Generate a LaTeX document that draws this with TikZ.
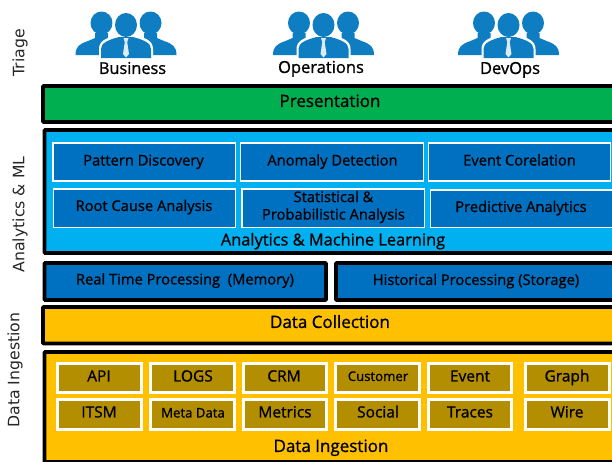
\documentclass[tikz,border=0pt]{standalone}
\usepackage{fontspec}
\setmainfont{Open Sans}[FakeBold=1]
\newfontfamily\sidefont{DejaVu Sans}
\definecolor{peopleblue}{HTML}{0F7DC2}
\definecolor{layergreen}{HTML}{00B050}
\definecolor{layercyan}{HTML}{00B0F0}
\definecolor{layerblue}{HTML}{0070C0}
\definecolor{layeryellow}{HTML}{FFC000}
\definecolor{sourcegold}{HTML}{B28E00}
\tikzset{
    layer/.style={draw=black, line width=3.6pt, rounded corners=0.6pt},
    bluecell/.style={draw=white, line width=1.5pt, fill=layerblue},
    goldcell/.style={draw=white, line width=3pt, fill=sourcegold},
    txt/.style={inner sep=0pt, yshift=-2.3pt, text=black, text height=0.75em, text depth=0.22em, font=\fontsize{14.7}{16}\selectfont},
    bigtxt/.style={txt, font=\fontsize{17}{19}\selectfont},
    goldtxt/.style={txt, font=\fontsize{15.5}{17}\selectfont},
    smalltxt/.style={txt, font=\fontsize{13.2}{15}\selectfont},
    sidetxt/.style={inner sep=0pt, rotate=90, text=black!85, font=\sidefont\fontsize{15.7}{18}\selectfont},
    people/.pic={
        % back left and back right person
        \foreach \s in {-1, 1} {
            \fill[peopleblue, xscale=\s] (24.5,-32) circle [x radius=11, y radius=11.5];
            \fill[peopleblue, xscale=\s] (50.5,0) .. controls (50.5,-8) and (47,-11) .. (38,-14)
                -- (31,-17) -- (31,-22) -- (18,-22) -- (18,-17) -- (8,-12) -- (8,0) -- cycle;
        }
        % white halo, then the front person
        \fill[white] (-27,3) -- (-27,-6) .. controls (-27,-14) and (-20,-17) .. (-9,-20)
            -- (9,-20) .. controls (20,-17) and (27,-14) .. (27,-6) -- (27,3) -- cycle;
        \fill[white] (0,-30) circle [x radius=13.5, y radius=14.5];
        \fill[peopleblue] (0,-30) circle [x radius=11, y radius=12];
        \fill[peopleblue] (-25,3) -- (-25,-6) .. controls (-25,-12) and (-18,-15) .. (-7,-18)
            -- (7,-18) .. controls (18,-15) and (25,-12) .. (25,-6) -- (25,3) -- cycle;
        % tie
        \fill[white!85!peopleblue] (-2.5,-17) -- (2.5,-17) -- (1.2,-13) -- (3,-1) -- (0,2.5) -- (-3,-1) -- (-1.2,-13) -- cycle;
    }
}
\begin{document}
\begin{tikzpicture}[x=1pt, y=-1pt]
    \useasboundingbox (0,0) rectangle (612,461);
    \clip (0,0) rectangle (612,461);

    % Side labels
    \node[sidetxt] (triage) at (20,53) {Triage};
    \node[sidetxt] (analyticsml) at (20,214.5) {Analytics \& ML};
    \node[sidetxt] (ingestionside) at (15,370) {Data Ingestion};

    % People on top
    \pic at (126,55) {people};
    \pic at (323.5,55) {people};
    \pic at (508.5,55) {people};
    \node[bigtxt, font=\fontsize{16.3}{18}\selectfont] (business) at (132.5,69) {Business};
    \node[bigtxt, font=\fontsize{16.5}{18}\selectfont] (operations) at (321,68) {Operations};
    \node[bigtxt, font=\fontsize{16.5}{18}\selectfont] (devops) at (510,69) {DevOps};

    % Presentation
    \draw[layer, fill=layergreen] (43,86) rectangle (625,122);
    \node[bigtxt] (presentation) at (330,102) {Presentation};

    % Analytics
    \draw[layer, fill=layercyan] (44.5,130) rectangle (625,253);
    \foreach \xa/\ya/\xb/\yb in {
        53/143/235.5/181,
        240.5/143/423.5/181,
        428.5/143/610.5/181,
        53.5/189/235.5/227.5,
        242/189/424.5/227.5,
        430.5/190/625/227.5}
        \draw[bluecell] (\xa,\ya) rectangle (\xb,\yb);
    \node[txt] (pattern) at (143.5,160.5) {Pattern Discovery};
    \node[txt] (anomaly) at (332.5,160.5) {Anomaly Detection};
    \node[txt] (event) at (519.5,160.5) {Event Corelation};
    \node[txt] (rootcause) at (144,206) {Root Cause Analysis};
    \node[inner sep=0pt, align=center, font=\fontsize{14.7}{17.5}\selectfont] (statistical) at (333.5,207) {Statistical \&\\Probabilistic Analysis};
    \node[txt] (predictive) at (521,207) {Predictive Analytics};
    \node[bigtxt, font=\fontsize{16.4}{18}\selectfont] (analyticstitle) at (333,240.5) {Analytics \& Machine Learning};

    % Processing
    \draw[layer, fill=layerblue] (44.5,263) rectangle (326,300);
    \draw[layer, fill=layerblue] (336,263) rectangle (625,300);
    \node[txt] (realtime) at (185,279.5) {Real Time Processing~ (Memory)};
    \node[txt] (historical) at (476,280) {Historical Processing (Storage)};

    % Data collection
    \draw[layer, fill=layeryellow] (43,307) rectangle (625,343.5);
    \node[bigtxt] (collection) at (330,323) {Data Collection};

    % Data ingestion
    \draw[layer, fill=layeryellow] (44.5,352) rectangle (625,462);
    \foreach \xa/\xb in {57.5/141.5, 150.5/234.5, 243.5/326.5, 335.5/419.5, 428.5/511.5, 525.5/609.5} {
        \draw[goldcell] (\xa,363.5) rectangle (\xb,392.5);
        \draw[goldcell] (\xa,399.5) rectangle (\xb,429);
    }
    % Row one
    \node[goldtxt] (api) at (99,376.5) {API};
    \node[goldtxt] (logs) at (193,376.5) {LOGS};
    \node[goldtxt] (crm) at (284,376.5) {CRM};
    \node[smalltxt] (customer) at (378,376) {Customer};
    \node[goldtxt] (eventsrc) at (470,376.5) {Event};
    \node[goldtxt] (graph) at (567,376.5) {Graph};
    % Row two
    \node[goldtxt] (itsm) at (99,412.5) {ITSM};
    \node[smalltxt] (metadata) at (193,412.5) {Meta Data};
    \node[goldtxt] (metrics) at (285,412.5) {Metrics};
    \node[goldtxt] (social) at (378,412.5) {Social};
    \node[goldtxt] (traces) at (470,412.5) {Traces};
    \node[goldtxt] (wire) at (567,412.5) {Wire};
    \node[bigtxt] (ingestion) at (331,447) {Data Ingestion};
\end{tikzpicture}
\end{document}
